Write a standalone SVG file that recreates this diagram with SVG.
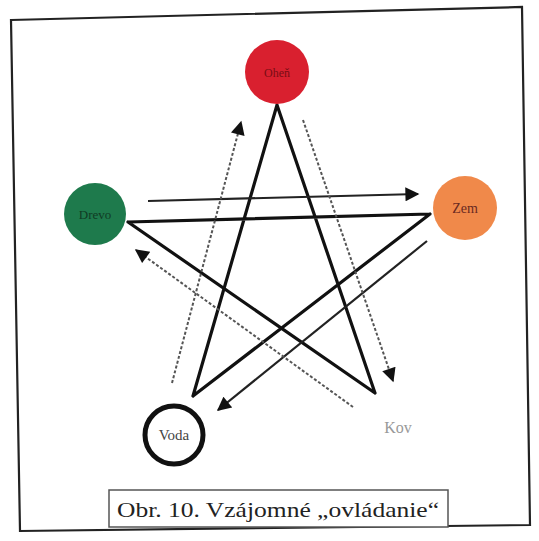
<svg xmlns="http://www.w3.org/2000/svg" width="539" height="541" viewBox="0 0 539 541">
<defs>
<style>
.star{stroke:#111;stroke-width:3.2;fill:none;stroke-linecap:round}
.arr{stroke:#222;stroke-width:2.2;fill:none}
.dot{stroke:#555;stroke-width:2;fill:none;stroke-dasharray:3 2}
.lbl{font-family:"Liberation Serif","Times New Roman",serif;text-anchor:middle}
</style>
<marker id="ah" viewBox="0 0 10 10" refX="9" refY="5" markerWidth="5" markerHeight="5" orient="auto" markerUnits="userSpaceOnUse" >
<path d="M0,0 L10,5 L0,10 Z" fill="#111"/>
</marker>
<marker id="ahs" viewBox="0 0 10 10" refX="9" refY="5" markerWidth="16" markerHeight="14" orient="auto" markerUnits="userSpaceOnUse">
<path d="M0,0 L10,5 L0,10 Z" fill="#111"/>
</marker>
</defs>
<rect width="539" height="541" fill="#fff"/>
<polygon points="11,20 522,7 530,525 20,531" fill="none" stroke="#222" stroke-width="2.2"/>
<g id="connectors">
<path class="star" d="M277,105 L193,396 M277,105 L375,393 M128,222 L430,214 M128,222 L375,393 M430,214 L193,396"/>
<line class="arr" x1="148" y1="201" x2="418" y2="194" marker-end="url(#ahs)"/>
<line class="arr" x1="427" y1="241" x2="218" y2="410" marker-end="url(#ahs)"/>
<line class="dot" x1="172" y1="383" x2="241" y2="122" marker-end="url(#ahs)"/>
<line class="dot" x1="303" y1="120" x2="393" y2="381" marker-end="url(#ahs)"/>
<line class="dot" x1="353" y1="407" x2="136" y2="250" marker-end="url(#ahs)"/>
</g>
<g id="ohen">
<circle cx="277" cy="72" r="32" fill="#d9202f"/>
<text class="lbl" x="277" y="77" font-size="12" fill="#7a0d14">Oheň</text>
</g>
<g id="drevo">
<circle cx="95" cy="214" r="31" fill="#1e7a4c"/>
<text class="lbl" x="95" y="219" font-size="13" fill="#103a24">Drevo</text>
</g>
<g id="zem">
<circle cx="465" cy="208" r="32" fill="#f0894a"/>
<text class="lbl" x="465" y="213" font-size="14" fill="#6a2a22">Zem</text>
</g>
<g id="voda">
<circle cx="174" cy="435" r="29" fill="#fff" stroke="#111" stroke-width="5"/>
<text class="lbl" x="174" y="440" font-size="15" fill="#444">Voda</text>
</g>
<g id="kov">
<circle cx="398" cy="428" r="30" fill="#fff"/>
<text class="lbl" x="398" y="433" font-size="16" fill="#999">Kov</text>
</g>
<g id="caption">
<rect x="109" y="490" width="339" height="37" fill="#fff" stroke="#555" stroke-width="1.5"/>
<text x="117" y="517" font-family="Liberation Serif,'Times New Roman',serif" font-size="21" fill="#222" textLength="322" lengthAdjust="spacingAndGlyphs">Obr. 10. Vzájomné „ovládanie“</text>
</g>
</svg>
